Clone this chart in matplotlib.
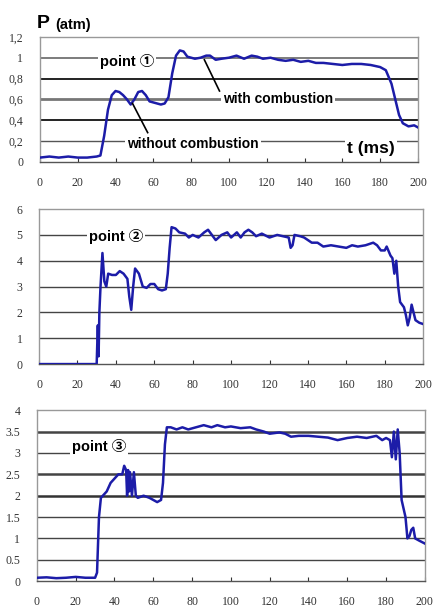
import numpy as np
import matplotlib.pyplot as plt

# panel 1 - point 1 (atm)
t1 = [0, 5, 10, 15, 20, 25, 30, 32, 34, 36, 38, 40, 42, 44, 46, 48, 50, 52, 54, 56, 58, 60, 62, 64, 66,
      68, 70, 72, 74, 76, 78, 80, 82, 85, 88, 90, 93, 96, 100, 104, 108, 112, 115, 118, 122, 126,
      130, 134, 138, 142, 146, 150, 155, 160, 165, 170, 175, 180, 183, 186, 188, 190, 192, 195, 198, 200]
p1 = [0.04, 0.05, 0.04, 0.05, 0.04, 0.04, 0.05, 0.06, 0.25, 0.5, 0.64, 0.68, 0.67, 0.64, 0.6, 0.55,
      0.6, 0.67, 0.68, 0.64, 0.58, 0.57, 0.56, 0.55, 0.56, 0.62, 0.85, 1.02, 1.07, 1.06, 1.01, 1.0,
      0.99, 1.0, 1.02, 1.02, 0.98, 0.99, 1.0, 1.02, 0.99, 1.02, 1.01, 0.99, 1.0, 0.98, 0.97, 0.98,
      0.96, 0.97, 0.95, 0.95, 0.94, 0.93, 0.94, 0.94, 0.93, 0.91, 0.88, 0.75, 0.6, 0.45, 0.37, 0.34,
      0.35, 0.33]

# panel 2 - point 2
t2 = [0, 10, 20, 30, 30.6, 31, 31.4, 32, 33, 34, 35, 36, 38, 40, 42, 44, 46, 47, 48, 49, 50, 52, 54,
      56, 58, 60, 62, 64, 66, 67, 68, 69, 71, 73, 76, 78, 80, 83, 86, 88, 90, 92, 95, 98, 100, 103,
      105, 107, 109, 111, 113, 116, 120, 124, 127, 130, 131, 132, 133, 136, 138, 140, 142, 145, 148,
      152, 156, 160, 163, 166, 170, 174, 176, 178, 180, 181, 183, 184, 185, 186, 187, 188, 190, 191,
      192, 193, 194, 195, 196, 198, 200]
p2 = [0, 0, 0, 0, 1.5, 0.3, 2.0, 3.0, 4.3, 3.2, 3.0, 3.5, 3.45, 3.45, 3.6, 3.5, 3.3, 2.6, 2.1, 3.0,
      3.7, 3.5, 3.0, 2.95, 3.1, 3.1, 2.9, 2.85, 2.9, 3.5, 4.5, 5.3, 5.25, 5.1, 5.05, 4.9, 5.0, 4.9,
      5.1, 5.2, 5.0, 4.8, 5.0, 5.1, 4.9, 5.1, 4.9, 5.1, 5.2, 5.1, 4.95, 5.05, 4.9, 5.0, 4.95, 4.9,
      4.5, 4.6, 5.0, 4.95, 4.9, 4.8, 4.7, 4.7, 4.55, 4.6, 4.55, 4.5, 4.6, 4.55, 4.6, 4.7, 4.6, 4.4,
      4.4, 4.55, 4.2, 4.1, 3.5, 4.0, 3.0, 2.4, 2.2, 1.9, 1.5, 1.8, 2.3, 2.0, 1.7, 1.6, 1.55]

# panel 3 - point 3
t3 = [0, 5, 10, 15, 20, 25, 30, 31, 32, 33, 34, 36, 38, 40, 42, 44, 45, 46, 46.5, 47, 47.5, 48, 49,
      50, 51, 52, 55, 58, 60, 62, 64, 65, 66, 67, 69, 72, 75, 78, 82, 86, 90, 93, 97, 100, 105, 110,
      113, 117, 120, 125, 128, 131, 135, 140, 145, 150, 155, 160, 165, 170, 175, 178, 180, 182, 183,
      184, 185, 186, 187, 188, 189, 190, 191, 192, 193, 194, 195, 197, 200]
p3 = [0.08, 0.09, 0.07, 0.08, 0.1, 0.08, 0.08, 0.2, 1.5, 1.95, 2.0, 2.1, 2.3, 2.4, 2.5, 2.5, 2.7,
      2.6, 2.0, 2.6, 2.1, 2.55, 2.0, 2.55, 2.0, 1.95, 2.0, 1.95, 1.9, 1.85, 1.9, 2.3, 3.2, 3.6, 3.6,
      3.55, 3.6, 3.55, 3.6, 3.65, 3.6, 3.65, 3.6, 3.62, 3.58, 3.6, 3.55, 3.5, 3.45, 3.48, 3.45, 3.38,
      3.4, 3.4, 3.38, 3.36, 3.3, 3.35, 3.38, 3.35, 3.4, 3.3, 3.35, 3.3, 2.9, 3.5, 2.85, 3.55, 3.0,
      1.9, 1.7, 1.5, 1.0, 1.05, 1.2, 1.25, 1.0, 0.95, 0.88]

xticks = [0, 20, 40, 60, 80, 100, 120, 140, 160, 180, 200]
yticks1 = [0, 0.2, 0.4, 0.6, 0.8, 1.0, 1.2]
ylabels1 = ["0", "0,2", "0,4", "0,6", "0,8", "1", "1,2"]
yticks2 = [0, 1, 2, 3, 4, 5, 6]
yticks3 = [0, 0.5, 1, 1.5, 2, 2.5, 3, 3.5, 4]
ylabels3 = ["0", "0.5", "1", "1.5", "2", "2.5", "3", "3.5", "4"]

line_col = "#1c1ca8"
lab_font = ["Liberation Sans", "Noto Sans CJK SC", "DejaVu Sans"]
box = dict(facecolor="white", edgecolor="none", pad=1.5)

fig = plt.figure(figsize=(4.34, 6.15), dpi=100)

ax1 = fig.add_axes([0.092, 0.737, 0.871, 0.203])
ax2 = fig.add_axes([0.090, 0.408, 0.885, 0.252])
ax3 = fig.add_axes([0.085, 0.055, 0.894, 0.278])

panels = [
    (ax1, t1, p1, yticks1, ylabels1, {0.4: (1.3, "#111111"), 0.6: (2.0, "#777777"),
                                      0.8: (1.3, "#111111"), 1.0: (1.2, "#666666"),
                                      0.2: (1.0, "#555555")}),
    (ax2, t2, p2, yticks2, [str(v) for v in yticks2], {}),
    (ax3, t3, p3, yticks3, ylabels3, {2: (1.8, "#333333"), 2.5: (1.8, "#444444"),
                                      3.5: (1.8, "#444444")}),
]

for ax, t, p, yt, yl, heavy in panels:
    for v in yt[1:-1]:
        lw, c = heavy.get(v, (1.0, "#444444"))
        ax.axhline(v, color=c, lw=lw, zorder=1)
    ax.plot(t, p, color=line_col, lw=1.8, zorder=3)
    ax.set_xlim(0, 200)
    ax.set_ylim(yt[0], yt[-1])
    ax.set_xticks(xticks)
    ax.set_yticks(yt)
    ax.set_yticklabels(yl)
    ax.tick_params(axis="x", direction="in", length=3, pad=11, labelsize=8.5, colors="#333333")
    ax.tick_params(axis="y", length=0, pad=12, labelsize=8.5, colors="#333333")
    for lab in ax.get_xticklabels() + ax.get_yticklabels():
        lab.set_family("Liberation Serif")
    for s in ax.spines.values():
        s.set_color("#999999")
        s.set_linewidth(1.0)
    ax.spines["bottom"].set_color("#555555")

# annotations panel 1
fig.text(0.085, 0.962, "P", fontsize=14, fontweight="bold", family=lab_font, va="center")
fig.text(0.128, 0.960, "(atm)", fontsize=10.5, fontweight="bold", family=lab_font, va="center")
ax1.text(46, 0.96, "point \u2460", fontsize=10.5, fontweight="bold", family=lab_font,
         ha="center", va="center", bbox=box, zorder=4)
ax1.text(126, 0.6, "with combustion", fontsize=10, fontweight="bold", family=lab_font,
         ha="center", va="center", bbox=box, zorder=4)
ax1.text(81, 0.17, "without combustion", fontsize=10, fontweight="bold", family=lab_font,
         ha="center", va="center", bbox=box, zorder=4)
ax1.text(175, 0.13, "t (ms)", fontsize=12.5, fontweight="bold", family=lab_font,
         ha="center", va="center", bbox=box, zorder=4)
ax1.plot([87, 95], [0.98, 0.68], color="black", lw=1.2, zorder=5)
ax1.plot([49, 57], [0.56, 0.28], color="black", lw=1.2, zorder=5)

ax2.text(40, 4.95, "point \u2461", fontsize=10.5, fontweight="bold", family=lab_font,
         ha="center", va="center", bbox=box, zorder=4)
ax3.text(32, 3.15, "point \u2462", fontsize=10.5, fontweight="bold", family=lab_font,
         ha="center", va="center", bbox=box, zorder=4)

fig.savefig("out.png", dpi=100)
